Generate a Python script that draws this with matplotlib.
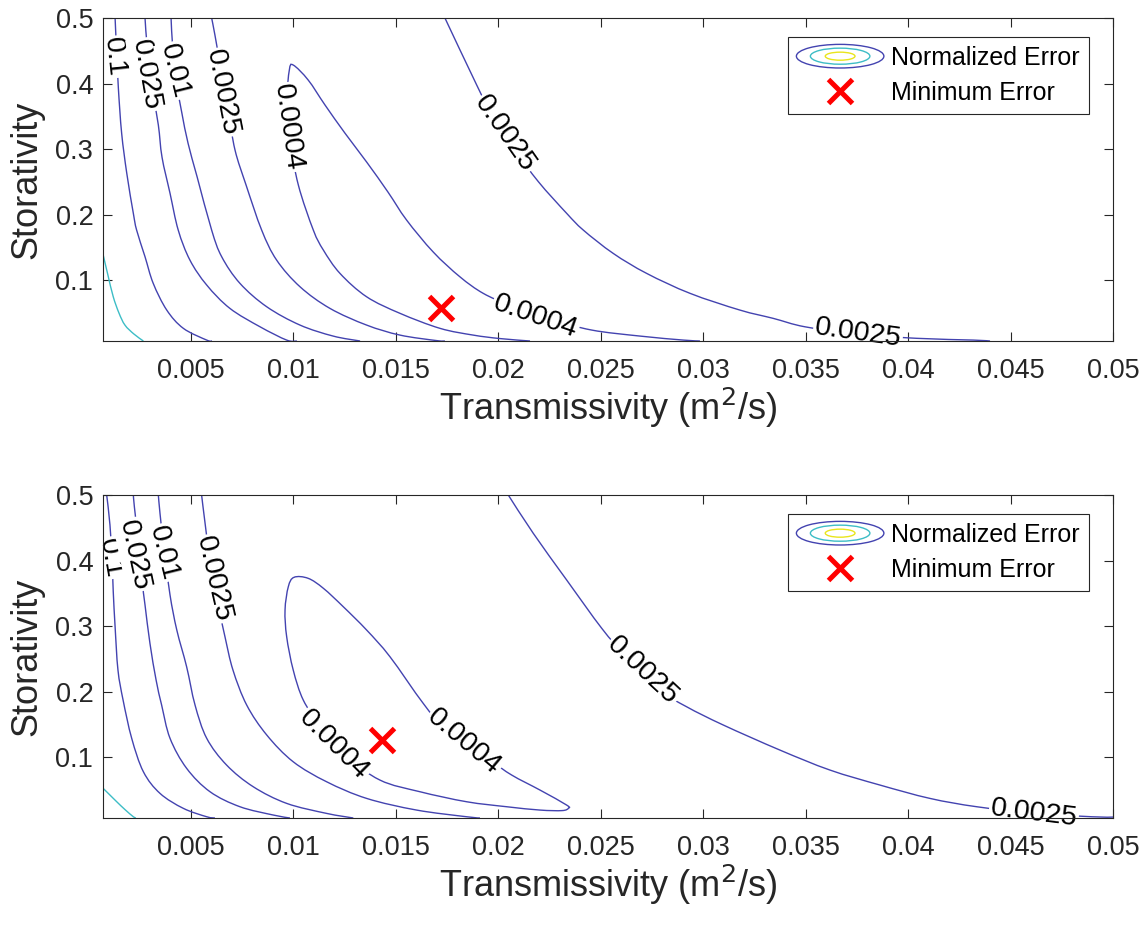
import numpy as np
import matplotlib
matplotlib.use('Agg')
import matplotlib.pyplot as plt
from matplotlib.legend_handler import HandlerBase
from matplotlib.patches import Ellipse, PathPatch
from matplotlib.path import Path

plt.rcParams['font.family'] = ['Liberation Sans', 'DejaVu Sans']

# contour levels drawn in both panels
levels = ['0.0004', '0.0025', '0.01', '0.025', '0.1']

# ---- upper panel: traced error contours (T in m2/s, S dimensionless) ----
top_cyan_T = [0.00074, 0.00097, 0.00123, 0.00151, 0.00180, 0.00224, 0.00270]
top_cyan_S = [0.1382, 0.1076, 0.0745, 0.0496, 0.0313, 0.0176, 0.007]

top_c01_T = [0.00132, 0.00139, 0.00148, 0.00164, 0.00189, 0.00221, 0.00237, 0.00278,
             0.00318, 0.00384, 0.00465, 0.00579, 0.00605]
top_c01_S = [0.5, 0.451, 0.3927, 0.324, 0.2629, 0.2018, 0.1763, 0.1356,
             0.095, 0.0542, 0.0263, 0.0084, 0.007]

top_c025_T = [0.00278, 0.00290, 0.00315, 0.00343, 0.00361, 0.00400, 0.00440, 0.00497,
              0.00579, 0.00692, 0.00839, 0.00969, 0.01019]
top_c025_S = [0.5, 0.451, 0.390, 0.3366, 0.2874, 0.2324, 0.1763, 0.1305,
              0.0924, 0.0568, 0.0287, 0.0084, 0.007]

top_c001_T = [0.00405, 0.00414, 0.00434, 0.00458, 0.00488, 0.00532, 0.00603, 0.00652,
              0.00741, 0.00872, 0.01034, 0.01196, 0.01327]
top_c001_S = [0.5, 0.451, 0.3977, 0.3545, 0.3087, 0.2577, 0.1763, 0.1356,
              0.095, 0.0592, 0.0313, 0.0145, 0.007]

top_c0025a_T = [0.00603, 0.00619, 0.00649, 0.00683, 0.00717, 0.00771, 0.00847, 0.00920,
                0.01034, 0.01180, 0.01359, 0.01522, 0.01701, 0.01741]
top_c0025a_S = [0.5, 0.474, 0.4206, 0.3595, 0.2985, 0.2450, 0.1763, 0.1305,
                0.0898, 0.0568, 0.0313, 0.016, 0.0076, 0.007]

top_c0025b_T = [0.01741, 0.01896, 0.01971, 0.02083, 0.02197, 0.02335, 0.02416, 0.02562,
                0.02725, 0.02937, 0.03180, 0.03343, 0.03497, 0.03756, 0.04042, 0.04319, 0.04400]
top_c0025b_S = [0.5, 0.3977, 0.3519, 0.2985, 0.2501, 0.2018, 0.1763, 0.1407,
                0.1102, 0.0797, 0.0542, 0.0415, 0.0287, 0.0176, 0.0111, 0.0084, 0.007]

top_c00004_T = [0.02156, 0.02010, 0.01879, 0.01717, 0.01522, 0.01359, 0.01229, 0.01148,
                0.01099, 0.01026, 0.00985, 0.00971, 0.00982, 0.01001, 0.01074, 0.01156,
                0.01253, 0.01359, 0.01463, 0.01554, 0.01684, 0.01814, 0.01928, 0.02058,
                0.02254, 0.02457, 0.02693, 0.02904, 0.02985]
top_c00004_S = [0.007, 0.0107, 0.016, 0.0263, 0.0492, 0.0745, 0.1102, 0.1458,
                0.1763, 0.2450, 0.3137, 0.3748, 0.4206, 0.4282, 0.4053, 0.3672,
                0.3244, 0.2802, 0.2344, 0.1916, 0.1428, 0.1050, 0.0797, 0.0618,
                0.0405, 0.0237, 0.0145, 0.0084, 0.007]

top_min_T, top_min_S = 0.0172, 0.057

top_label_text = ['0.1', '0.025', '0.01', '0.0025', '0.0004', '0.0025', '0.0004', '0.0025']
top_label_T = [0.00127, 0.00282, 0.00419, 0.00656, 0.00973, 0.02034, 0.02183, 0.03756]
top_label_S = [0.4405, 0.413, 0.419, 0.3863, 0.3328, 0.3229, 0.0443, 0.0191]
top_label_rot = [-84, -80, -76, -79, -82, -55, -19, -8]

# ---- lower panel ----
bot_cyan_T = [0.00074, 0.00107, 0.00140, 0.00180, 0.00221, 0.00234]
bot_cyan_S = [0.0522, 0.042, 0.0318, 0.0199, 0.0089, 0.007]

bot_c01_T = [0.00091, 0.00107, 0.00117, 0.00123, 0.00132, 0.00146, 0.00171, 0.00213,
             0.00270, 0.00351, 0.00465, 0.00579, 0.00619]
bot_c01_S = [0.5, 0.4542, 0.4008, 0.3524, 0.2989, 0.2328, 0.187, 0.1286,
             0.0776, 0.0446, 0.0217, 0.0089, 0.007]

bot_c025_T = [0.00221, 0.00226, 0.00244, 0.00263, 0.00278, 0.00302, 0.00332, 0.00359,
              0.00400, 0.00481, 0.00595, 0.00741, 0.00904, 0.00985]
bot_c025_S = [0.5, 0.4821, 0.4313, 0.3702, 0.3321, 0.2736, 0.2176, 0.1794,
              0.1286, 0.0828, 0.0471, 0.0242, 0.0115, 0.007]

bot_c001_T = [0.00343, 0.00351, 0.00371, 0.00400, 0.00433, 0.00481, 0.00522, 0.00579,
              0.00676, 0.00806, 0.00969, 0.01164, 0.01294]
bot_c001_S = [0.5, 0.4721, 0.416, 0.3473, 0.2939, 0.2378, 0.1794, 0.1286,
              0.0878, 0.0547, 0.0293, 0.014, 0.007]

bot_c0025a_T = [0.00554, 0.00570, 0.00595, 0.00630, 0.00668, 0.00707, 0.00774, 0.00872,
                0.01001, 0.01164, 0.01359, 0.01603, 0.01847, 0.01912]
bot_c0025a_S = [0.5, 0.4592, 0.4008, 0.3397, 0.2837, 0.2328, 0.1794, 0.1336,
                0.0928, 0.0623, 0.0369, 0.0191, 0.0089, 0.007]

bot_c0025b_T = [0.02050, 0.02172, 0.02335, 0.02506, 0.02619, 0.02790, 0.02920, 0.03099,
                0.03375, 0.03619, 0.03863, 0.04107, 0.04335, 0.04614, 0.04896, 0.05]
bot_c0025b_S = [0.5, 0.4415, 0.3702, 0.2965, 0.2557, 0.2023, 0.1768, 0.1489,
                0.1107, 0.0802, 0.0573, 0.0369, 0.0242, 0.0145, 0.0089, 0.0084]

bot_c00004_T = [0.01005, 0.00977, 0.00961, 0.00969, 0.01001, 0.01050, 0.01131, 0.01253,
                0.01424, 0.01619, 0.01847, 0.02042, 0.02205, 0.02312, 0.02343, 0.02335,
                0.02205, 0.02067, 0.01961, 0.01741, 0.01635, 0.01473, 0.01359, 0.01245,
                0.01148, 0.01074, 0.01005]
bot_c00004_S = [0.3744, 0.36, 0.3244, 0.2837, 0.2328, 0.187, 0.1489, 0.1031,
                0.0649, 0.0471, 0.0318, 0.0242, 0.0191, 0.0183, 0.0217, 0.0267,
                0.0496, 0.0725, 0.0954, 0.1443, 0.182, 0.2531, 0.2939, 0.3295,
                0.3576, 0.3728, 0.3744]

bot_min_T, bot_min_S = 0.01432, 0.126

bot_label_text = ['0.1', '0.025', '0.01', '0.0025', '0.0004', '0.0004', '0.0025', '0.0025']
bot_label_T = [0.00107, 0.00224, 0.00366, 0.00614, 0.01200, 0.01834, 0.02707, 0.04614]
bot_label_S = [0.4038, 0.4084, 0.4115, 0.3718, 0.1183, 0.1229, 0.2313, 0.0145]
bot_label_rot = [-80, -78, -76, -77, -45, -40, -43, -7]

x_ticks = [0.005, 0.01, 0.015, 0.02, 0.025, 0.03, 0.035, 0.04, 0.045, 0.05]
x_ticklabels = ['0.005', '0.01', '0.015', '0.02', '0.025', '0.03', '0.035', '0.04', '0.045', '0.05']
y_ticks = [0.1, 0.2, 0.3, 0.4, 0.5]
y_ticklabels = ['0.1', '0.2', '0.3', '0.4', '0.5']

BLUE = '#4343b0'
CYAN = '#3dbdc6'
YELLOW = '#e9e51c'
INK = '#262626'


def smooth_path(T, S):
    """Cubic Bezier path running through every traced vertex (Catmull-Rom)."""
    P = np.column_stack([T, S]).astype(float)
    n = len(P)
    closed = np.allclose(P[0], P[-1])
    verts = [P[0]]
    codes = [Path.MOVETO]
    for i in range(n - 1):
        if i > 0:
            p0 = P[i - 1]
        else:
            p0 = P[n - 2] if closed else P[0]
        if i + 2 < n:
            p3 = P[i + 2]
        else:
            p3 = P[1] if closed else P[n - 1]
        p1, p2 = P[i], P[i + 1]
        verts += [p1 + (p2 - p0) / 6.0, p2 - (p3 - p1) / 6.0, p2]
        codes += [Path.CURVE4] * 3
    return Path(np.array(verts), codes)


class ContourIcon(HandlerBase):
    """Nested ellipses, the usual legend glyph for a contour set."""
    def create_artists(self, legend, orig_handle, xdescent, ydescent,
                       width, height, fontsize, trans):
        cx = 0.5 * width - xdescent
        cy = 0.5 * height - ydescent
        out = []
        for frac, col in ((1.0, BLUE), (0.68, CYAN), (0.34, YELLOW)):
            out.append(Ellipse((cx, cy), width * frac, width * 0.27 * frac,
                               fill=False, edgecolor=col, lw=1.0, transform=trans))
        return out


def draw_panel(ax, curves, cyan, labels, tmin, smin):
    for T, S in curves:
        ax.add_patch(PathPatch(smooth_path(T, S), fill=False, edgecolor=BLUE,
                               lw=1.0, zorder=2))
    ax.add_patch(PathPatch(smooth_path(*cyan), fill=False, edgecolor=CYAN,
                           lw=1.0, zorder=2))

    for txt, t, s, rot in zip(*labels):
        ax.text(t, s, txt, fontsize=20.5, rotation=rot, rotation_mode='anchor',
                ha='center', va='center', color='black', zorder=2.2,
                bbox=dict(facecolor='white', edgecolor='none', pad=1.0))

    mk, = ax.plot([tmin], [smin], linestyle='none', marker='x', color='red',
                  markersize=17, markeredgewidth=3.6, zorder=4, label='Minimum Error')

    proxy = Ellipse((0, 0), 1, 1)
    ax.legend([proxy, mk], ['Normalized Error', 'Minimum Error'],
              handler_map={proxy: ContourIcon()},
              loc='upper right', bbox_to_anchor=(0.976, 0.941), borderaxespad=0,
              fontsize=18, handlelength=3.5, handleheight=0.9, handletextpad=0.3,
              labelspacing=0.45, borderpad=0.35, fancybox=False, framealpha=1,
              edgecolor=INK)
    ax.get_legend().get_frame().set_linewidth(0.8)

    ax.set_xlim(0.00073, 0.05)
    ax.set_ylim(0.007, 0.5)
    ax.set_xticks(x_ticks)
    ax.set_xticklabels(x_ticklabels)
    ax.set_yticks(y_ticks)
    ax.set_yticklabels(y_ticklabels)
    ax.tick_params(direction='in', length=6.5, width=0.8, top=True, right=True,
                   labelsize=19.5, colors=INK)
    ax.tick_params(axis='x', pad=12.5)
    ax.tick_params(axis='y', pad=7)
    for sp in ax.spines.values():
        sp.set_color(INK)
        sp.set_linewidth(0.8)
    ax.set_xlabel('Transmissivity (m$^2$/s)', fontsize=26, color=INK, labelpad=1)
    ax.set_ylabel('Storativity', fontsize=26, color=INK, labelpad=8)


fig = plt.figure(figsize=(11.47, 9.26), dpi=100)
W, H = 1147.0, 926.0
ax_top = fig.add_axes([103 / W, 1 - 341 / H, 1010 / W, 323 / H])
ax_bot = fig.add_axes([103 / W, 1 - 818 / H, 1010 / W, 323 / H])

draw_panel(ax_top,
           [(top_c01_T, top_c01_S), (top_c025_T, top_c025_S), (top_c001_T, top_c001_S),
            (top_c0025a_T, top_c0025a_S), (top_c0025b_T, top_c0025b_S),
            (top_c00004_T, top_c00004_S)],
           (top_cyan_T, top_cyan_S),
           (top_label_text, top_label_T, top_label_S, top_label_rot),
           top_min_T, top_min_S)

draw_panel(ax_bot,
           [(bot_c01_T, bot_c01_S), (bot_c025_T, bot_c025_S), (bot_c001_T, bot_c001_S),
            (bot_c0025a_T, bot_c0025a_S), (bot_c0025b_T, bot_c0025b_S),
            (bot_c00004_T, bot_c00004_S)],
           (bot_cyan_T, bot_cyan_S),
           (bot_label_text, bot_label_T, bot_label_S, bot_label_rot),
           bot_min_T, bot_min_S)

fig.savefig('out.png', dpi=100)
